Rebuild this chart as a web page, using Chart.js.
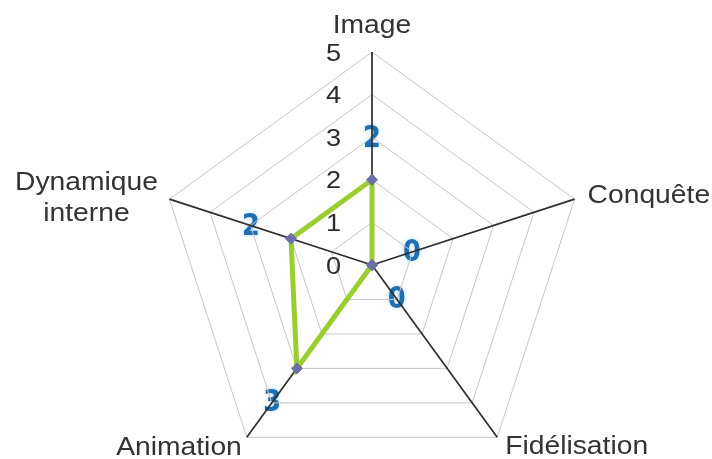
<!DOCTYPE html>
<html lang="fr">
<head>
<meta charset="utf-8">
<title>Radar</title>
<script src="https://cdn.jsdelivr.net/npm/chart.js@4/dist/chart.umd.min.js"></script>
<style>
  html, body { margin: 0; padding: 0; background: #ffffff; overflow: hidden; }
  #wrap { position: relative; width: 712px; height: 478px; }
</style>
</head>
<body>
<div id="wrap"><canvas id="radar"></canvas></div>
<script>
// Axes of the radar, clockwise from the top
const categories = ['Image', 'Conquête', 'Fidélisation', 'Animation', ['Dynamique', 'interne']];
// Scores per axis
const scores = [2, 0, 0, 3, 2];
// Scale graduations shown along the top axis
const tickValues = [0, 1, 2, 3, 4, 5];

const LABEL_FONT = '25px "Liberation Sans", Arial, sans-serif';
const TICK_FONT = '24px "Liberation Sans", Arial, sans-serif';
const VALUE_FONT = 'bold 31px "Liberation Sans Narrow", "DejaVu Sans Condensed", "Liberation Sans", sans-serif';
const STRETCH = 1.13;

function stretchedText(ctx, text, x, y, align, sx) {
  ctx.save();
  ctx.translate(x, y);
  ctx.scale(sx || STRETCH, 1);
  ctx.textAlign = align;
  ctx.fillText(text, 0, 0);
  ctx.restore();
}

// Score labels sit a little outside each point, under the axis lines
const valueLabels = {
  id: 'valueLabels',
  beforeDraw(chart) {
    const scale = chart.scales.r;
    const ctx = chart.ctx;
    ctx.save();
    ctx.font = VALUE_FONT;
    ctx.fillStyle = '#1f6db3';
    ctx.textBaseline = 'middle';
    ctx.shadowColor = 'rgba(160, 215, 255, 0.9)';
    ctx.shadowBlur = 4;
    scores.forEach((v, i) => {
      const p = scale.getPointPosition(i, scale.getDistanceFromCenterForValue(v) + 42);
      stretchedText(ctx, String(v), p.x, p.y + 1, 'center', 0.92);
    });
    ctx.restore();
  }
};

// Axis names and graduation numbers
const axisText = {
  id: 'axisText',
  afterDraw(chart) {
    const scale = chart.scales.r;
    const ctx = chart.ctx;
    const outer = scale.drawingArea;
    ctx.save();
    ctx.fillStyle = '#333333';
    ctx.textBaseline = 'alphabetic';
    ctx.font = LABEL_FONT;
    const offsets = [
      { dx: 0, dy: -19, align: 'center' },
      { dx: 13, dy: 4, align: 'left' },
      { dx: 8, dy: 17, align: 'left' },
      { dx: -5, dy: 18, align: 'right' },
      { dx: -83, dy: -9, align: 'center' }
    ];
    categories.forEach((label, i) => {
      const p = scale.getPointPosition(i, outer);
      const o = offsets[i];
      const lines = Array.isArray(label) ? label : [label];
      lines.forEach((line, k) => {
        stretchedText(ctx, line, p.x + o.dx, p.y + o.dy + k * 31, o.align);
      });
    });
    ctx.font = TICK_FONT;
    ctx.textBaseline = 'middle';
    ctx.fillStyle = '#2b2b2b';
    tickValues.forEach(v => {
      const y = scale.yCenter - scale.getDistanceFromCenterForValue(v);
      stretchedText(ctx, String(v), scale.xCenter - 31, y + 2, 'right');
    });
    ctx.restore();
  }
};

new Chart(document.getElementById('radar'), {
  type: 'radar',
  data: {
    labels: categories,
    datasets: [{
      data: scores,
      borderColor: '#9acd2e',
      borderWidth: 5,
      backgroundColor: 'rgba(0,0,0,0)',
      fill: false,
      pointStyle: 'rectRot',
      pointRadius: 5.5,
      pointBackgroundColor: '#6a6fa6',
      pointBorderColor: '#6a6fa6',
      pointBorderWidth: 1
    }]
  },
  options: {
    responsive: true,
    maintainAspectRatio: false,
    animation: false,
    events: [],
    layout: { padding: { left: 159, right: 127, top: 52, bottom: 0 } },
    plugins: {
      legend: { display: false },
      tooltip: { enabled: false }
    },
    scales: {
      r: {
        min: 0,
        max: 5,
        ticks: { display: false, stepSize: 1 },
        pointLabels: { display: false },
        grid: { color: '#c6c6c6', lineWidth: 1 },
        angleLines: { color: '#2e2e2e', lineWidth: 1.7 }
      }
    }
  },
  plugins: [valueLabels, axisText]
});
</script>
</body>
</html>
